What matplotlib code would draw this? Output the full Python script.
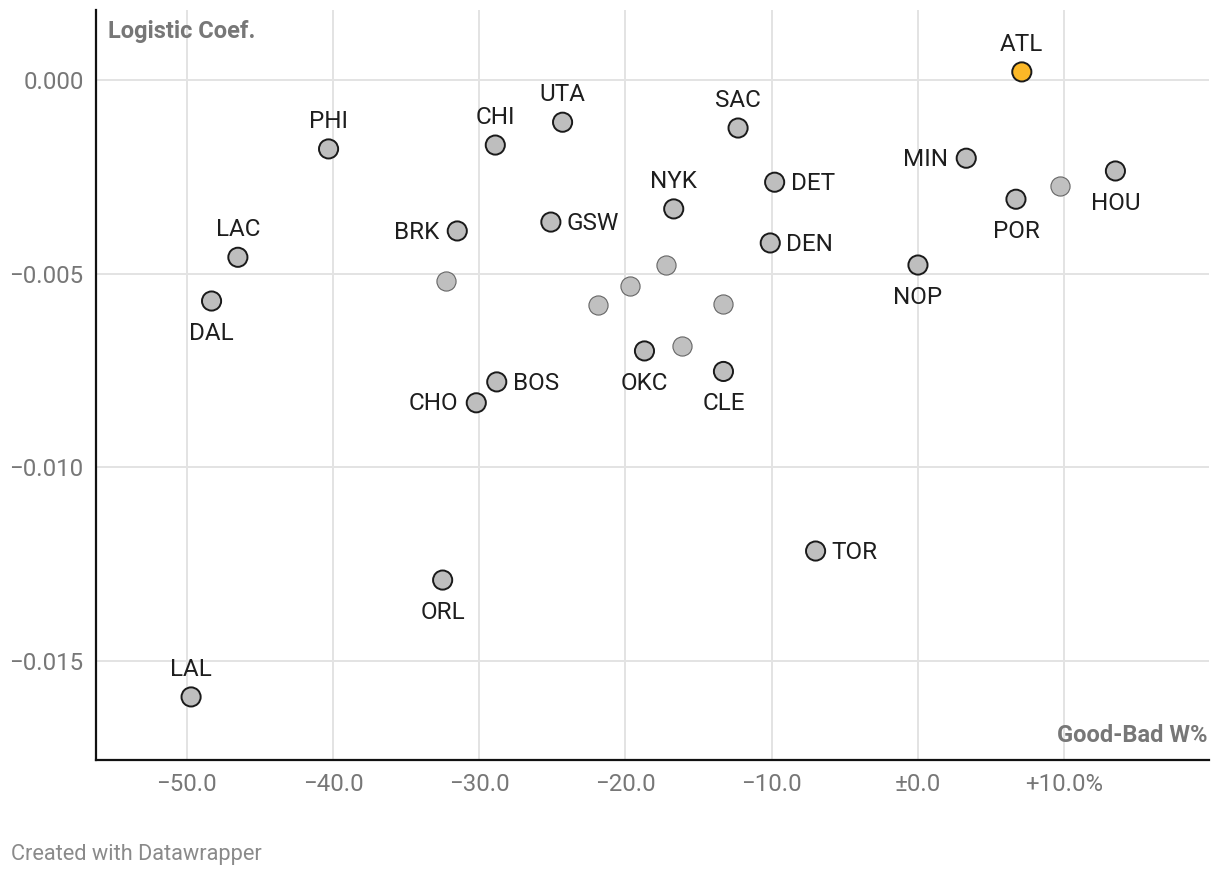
import matplotlib

matplotlib.use("Agg")
import matplotlib.pyplot as plt

plt.rcParams["font.family"] = ["Roboto", "DejaVu Sans"]

# Données (écart W% vs coefficient logistique)
teams = ["ATL", "PHI", "CHI", "UTA", "SAC", "MIN", "HOU", "POR", "DET", "NYK",
         "GSW", "BRK", "DEN", "LAC", "NOP", "DAL", "OKC", "CLE", "BOS", "CHO",
         "TOR", "ORL", "LAL"]
team_x = [7.1, -40.3, -28.9, -24.3, -12.3, 3.3, 13.5, 6.7, -9.8, -16.7,
          -25.1, -31.5, -10.1, -46.5, 0.0, -48.3, -18.7, -13.3, -28.8, -30.2,
          -7.0, -32.5, -49.7]
team_y = [0.00021, -0.00178, -0.00168, -0.00109, -0.00124, -0.00202, -0.00235,
          -0.00308, -0.00264, -0.00333, -0.00367, -0.00390, -0.00421, -0.00458,
          -0.00478, -0.00571, -0.00700, -0.00753, -0.00780, -0.00834,
          -0.01217, -0.01292, -0.01594]
label_side = ["up", "up", "up", "up", "up", "left", "down", "down", "right", "up",
              "right", "left", "right", "up", "down", "down", "down", "down", "right", "left",
              "right", "down", "up"]

# points sans étiquette
other_x = [9.7, -32.3, -21.9, -19.7, -17.2, -13.35, -16.15]
other_y = [-0.00274, -0.00518, -0.00580, -0.00531, -0.00479, -0.00579, -0.00686]

x_ticks = [-50, -40, -30, -20, -10, 0, 10]
x_tick_labels = ["−50.0", "−40.0", "−30.0", "−20.0", "−10.0", "±0.0", "+10.0%"]
y_ticks = [0.0, -0.005, -0.010, -0.015]
y_tick_labels = ["0.000", "−0.005", "−0.010", "−0.015"]

GREY_TXT = "#777777"

fig = plt.figure(figsize=(12.2, 8.76), dpi=100)
ax = fig.add_axes([0.0787, 0.1324, 0.9123, 0.8562])
ax.set_xlim(-56.2, 19.9)
ax.set_ylim(-0.01757, 0.00181)

ax.set_xticks(x_ticks)
ax.set_xticklabels(x_tick_labels)
ax.set_yticks(y_ticks)
ax.set_yticklabels(y_tick_labels)
ax.tick_params(length=0, labelsize=17.3, labelcolor=GREY_TXT)
ax.tick_params(axis="x", pad=9)
ax.tick_params(axis="y", pad=9)
ax.grid(True, color="#e3e3e3", lw=1.4, zorder=0)
for s in ("top", "right"):
    ax.spines[s].set_visible(False)
for s in ("left", "bottom"):
    ax.spines[s].set_linewidth(1.6)
    ax.spines[s].set_color("#111111")

ax.scatter(other_x, other_y, s=190, c="#c0c0c0", edgecolors="#666666",
           linewidths=0.8, zorder=3)
colors = ["#fcb827" if t == "ATL" else "#bebebe" for t in teams]
ax.scatter(team_x, team_y, s=190, c=colors, edgecolors="#1a1a1a",
           linewidths=1.4, zorder=4)

offsets = {"up": ((0, 15), "center"), "down": ((0, -28), "center"),
           "right": ((11.5, -5.5), "left"), "left": ((-13, -5.5), "right")}
for t, xv, yv, side in zip(teams, team_x, team_y, label_side):
    off, ha = offsets[side]
    ax.annotate(t, (xv, yv), textcoords="offset points", xytext=off,
                ha=ha, va="baseline", fontsize=17.5, color="#1e1e1e", zorder=5)

ax.text(0.011, 0.987, "Logistic Coef.", transform=ax.transAxes, ha="left", va="top",
        fontsize=17, weight="bold", color=GREY_TXT)
ax.text(0.999, 0.017, "Good-Bad W%", transform=ax.transAxes, ha="right", va="bottom",
        fontsize=17, weight="bold", color=GREY_TXT)
fig.text(11 / 1220, 1 - 860 / 876, "Created with Datawrapper", ha="left", va="baseline",
         fontsize=15.7, color="#8a8a8a")

fig.savefig("out.png", dpi=100)
